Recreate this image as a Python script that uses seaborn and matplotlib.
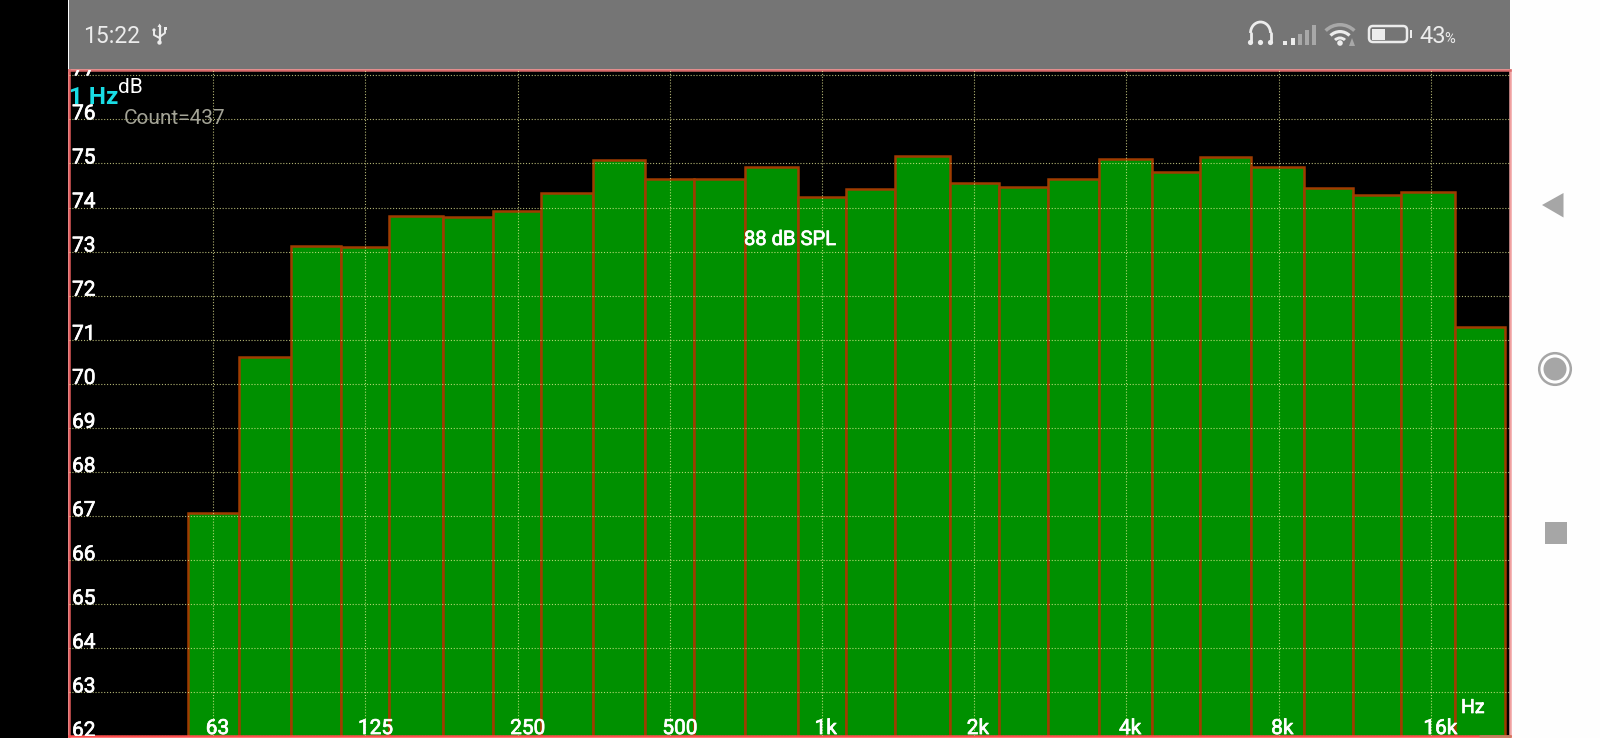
import numpy as np
import pandas as pd
import seaborn as sns
import matplotlib.pyplot as plt
import matplotlib.patheffects as pe
from matplotlib.patches import Rectangle, Circle, Wedge, Arc, FancyBboxPatch, Polygon
from matplotlib.ticker import NullLocator
from matplotlib.transforms import ScaledTranslation

# third octave bands, edges in Hz
band_edges = [55.6, 70.2, 88.9, 111.6, 138.9, 178.2, 223.1, 278.0, 351.9, 446.4, 558.0, 702.9, 894.9,
              1116.6, 1393.7, 1790.6, 2237.6, 2800, 3524, 4486, 5583, 7061, 8990, 11206, 13981, 17880, 22419]
band_levels = [67.06, 70.61, 73.13, 73.11, 73.81, 73.78, 73.92, 74.34, 75.08, 74.65, 74.65, 74.91, 74.23,
               74.42, 75.18, 74.55, 74.47, 74.65, 75.11, 74.80, 75.15, 74.91, 74.45, 74.29, 74.35, 71.29]
freq_ticks = [62.5, 125, 250, 500, 1000, 2000, 4000, 8000, 16000]
freq_labels = ['63', '125', '250', '500', '1k', '2k', '4k', '8k', '16k']
db_ticks = list(range(62, 78))

W, H = 1600, 738

sns.set_style('dark')
plt.rcParams['font.family'] = ['Roboto', 'DejaVu Sans']

edges = np.array(band_edges)
data = pd.DataFrame({'freq': np.sqrt(edges[:-1] * edges[1:]), 'level': band_levels})

fig = plt.figure(figsize=(W / 100, H / 100), dpi=100, facecolor='#fefefe')
ax = fig.add_axes([69 / W, 1 - 736.4 / H, (1510 - 69) / W, (736.4 - 70) / H], facecolor='black')

sns.histplot(data=data, x='freq', weights='level', bins=list(np.log10(edges)), log_scale=True, ax=ax,
             color='#009000', alpha=1, edgecolor='#a03c00', linewidth=1.8)

ax.set_xscale('log', base=2)
ax.set_xlim(32.4, 22944)
ax.set_ylim(62, 77.12)
ax.set_xlabel('')
ax.set_ylabel('')
ax.set_xticks(freq_ticks, freq_labels)
ax.set_yticks(db_ticks, [str(d) for d in db_ticks])
ax.xaxis.set_minor_locator(NullLocator())
ax.yaxis.set_minor_locator(NullLocator())
ax.set_axisbelow(False)
ax.grid(True, color='#eef09a', linestyle=(0, (1, 1.6)), linewidth=0.8, alpha=0.75)

# roboto here has one weight, a thin stroke gives the medium look of the app
medium = [pe.withStroke(linewidth=0.5, foreground='white')]

ax.tick_params(axis='x', length=0, pad=-1.7, colors='white', labelsize=15)
ax.tick_params(axis='y', length=0, pad=-2.2, colors='white', labelsize=15)
shift = ScaledTranslation(-7.5 / 100, 0, fig.dpi_scale_trans)
for lab in ax.get_xticklabels():
    lab.set_ha('left')
    lab.set_va('baseline')
    lab.set_path_effects(medium)
    lab.set_transform(lab.get_transform() + shift)
for lab in ax.get_yticklabels():
    lab.set_ha('left')
    lab.set_va('baseline')
    lab.set_path_effects(medium)
    lab.set_clip_path(ax.patch)
    lab.set_clip_on(True)

for side, col in [('left', '#e05a5a'), ('top', '#d96a6a'), ('right', '#f0a0a0'), ('bottom', '#ff4d4d')]:
    ax.spines[side].set_visible(True)
    ax.spines[side].set_color(col)
    ax.spines[side].set_linewidth(1.8)


def label(x, y, s, **kw):
    return fig.text(x / W, 1 - y / H, s, va='baseline', ha='left', **kw)


label(69, 104.5, '1 Hz', color='#19dde5', fontsize=17.5, fontweight='bold')
label(118, 93, 'dB', color='white', fontsize=15)
label(124, 124, 'Count=437', color='#a3a396', fontsize=15)
label(744, 245, '88 dB SPL', color='white', fontsize=14.5, path_effects=medium)
label(1461, 713, 'Hz', color='white', fontsize=14, path_effects=medium)

# phone screen around the chart, in pixels
ov = fig.add_axes([0, 0, 1, 1], facecolor='none', zorder=5)
ov.set_xlim(0, W)
ov.set_ylim(H, 0)
ov.axis('off')
ov.add_patch(Rectangle((0, 0), 68, H, color='black', lw=0))
ov.add_patch(Rectangle((69, 0), 1441, 68.5, color='#757575', lw=0))
ov.plot([1480, 1510], [736.4, 736.4], color='#c08060', lw=1.8)

icon = '#ececec'
dim = '#a8a8a8'
ov.text(83.5, 43, '15:22', color=icon, fontsize=16.5, va='baseline')
ov.text(1419, 43, '43', color=icon, fontsize=17, va='baseline')
ov.text(1444, 43, '%', color=icon, fontsize=10.5, va='baseline')

# usb
ov.plot([159.5, 159.5], [26, 42], color=icon, lw=1.6)
ov.plot([154, 154, 159.5], [31, 35, 38], color=icon, lw=1.4)
ov.plot([165, 165, 159.5], [30, 33, 37], color=icon, lw=1.4)
ov.add_patch(Circle((159.5, 42.5), 2.2, color=icon, lw=0))
ov.add_patch(Circle((154, 30), 1.6, color=icon, lw=0))
ov.add_patch(Rectangle((163.5, 27), 3, 3, color=icon, lw=0))
ov.add_patch(Polygon([[157.5, 27], [161.5, 27], [159.5, 23.5]], color=icon, lw=0))

# headphones
ov.add_patch(Arc((1260.5, 33), 20, 22, theta1=180, theta2=360, color=icon, lw=2))
ov.plot([1250.5, 1250.5], [33, 41], color=icon, lw=2)
ov.plot([1270.5, 1270.5], [33, 41], color=icon, lw=2)
for cx in [1250.5, 1260.5, 1270.5]:
    ov.add_patch(Circle((cx, 42.5), 2.6, color=icon, lw=0))

# signal
for sx, top, col in [(1283, 41, icon), (1291, 38, icon), (1298, 34, dim), (1305, 30, dim), (1312, 25, dim)]:
    ov.add_patch(Rectangle((sx, top), 3.6, 45 - top, color=col, lw=0))

# wifi
for r, w, col in [(22, 3.5, dim), (15, 3.2, icon), (8.5, 3, icon)]:
    ov.add_patch(Wedge((1340, 45), r, 225, 315, width=w, color=col, lw=0))
ov.add_patch(Circle((1340, 43), 2.8, color=icon, lw=0))
ov.add_patch(Polygon([[1349, 46], [1352, 38], [1355, 46]], color=dim, lw=0))

# battery
ov.add_patch(FancyBboxPatch((1369, 26), 38, 16, boxstyle='round,pad=0,rounding_size=4',
                            facecolor='none', edgecolor=icon, lw=1.8))
ov.add_patch(Rectangle((1372, 29), 13, 10.5, color=icon, lw=0))
ov.add_patch(Rectangle((1410, 30), 2, 8, color=icon, lw=0))

# navigation buttons
nav = '#a6a6a6'
ov.add_patch(Polygon([[1542, 205], [1563.5, 193], [1563.5, 217.5]], color=nav, lw=0))
ov.add_patch(Circle((1555, 369), 15.8, facecolor='none', edgecolor=nav, lw=1.8))
ov.add_patch(Circle((1555, 369), 11.5, color=nav, lw=0))
ov.add_patch(Rectangle((1545, 522), 21.5, 22, color=nav, lw=0))

fig.savefig('out.png', dpi=100, facecolor=fig.get_facecolor())
